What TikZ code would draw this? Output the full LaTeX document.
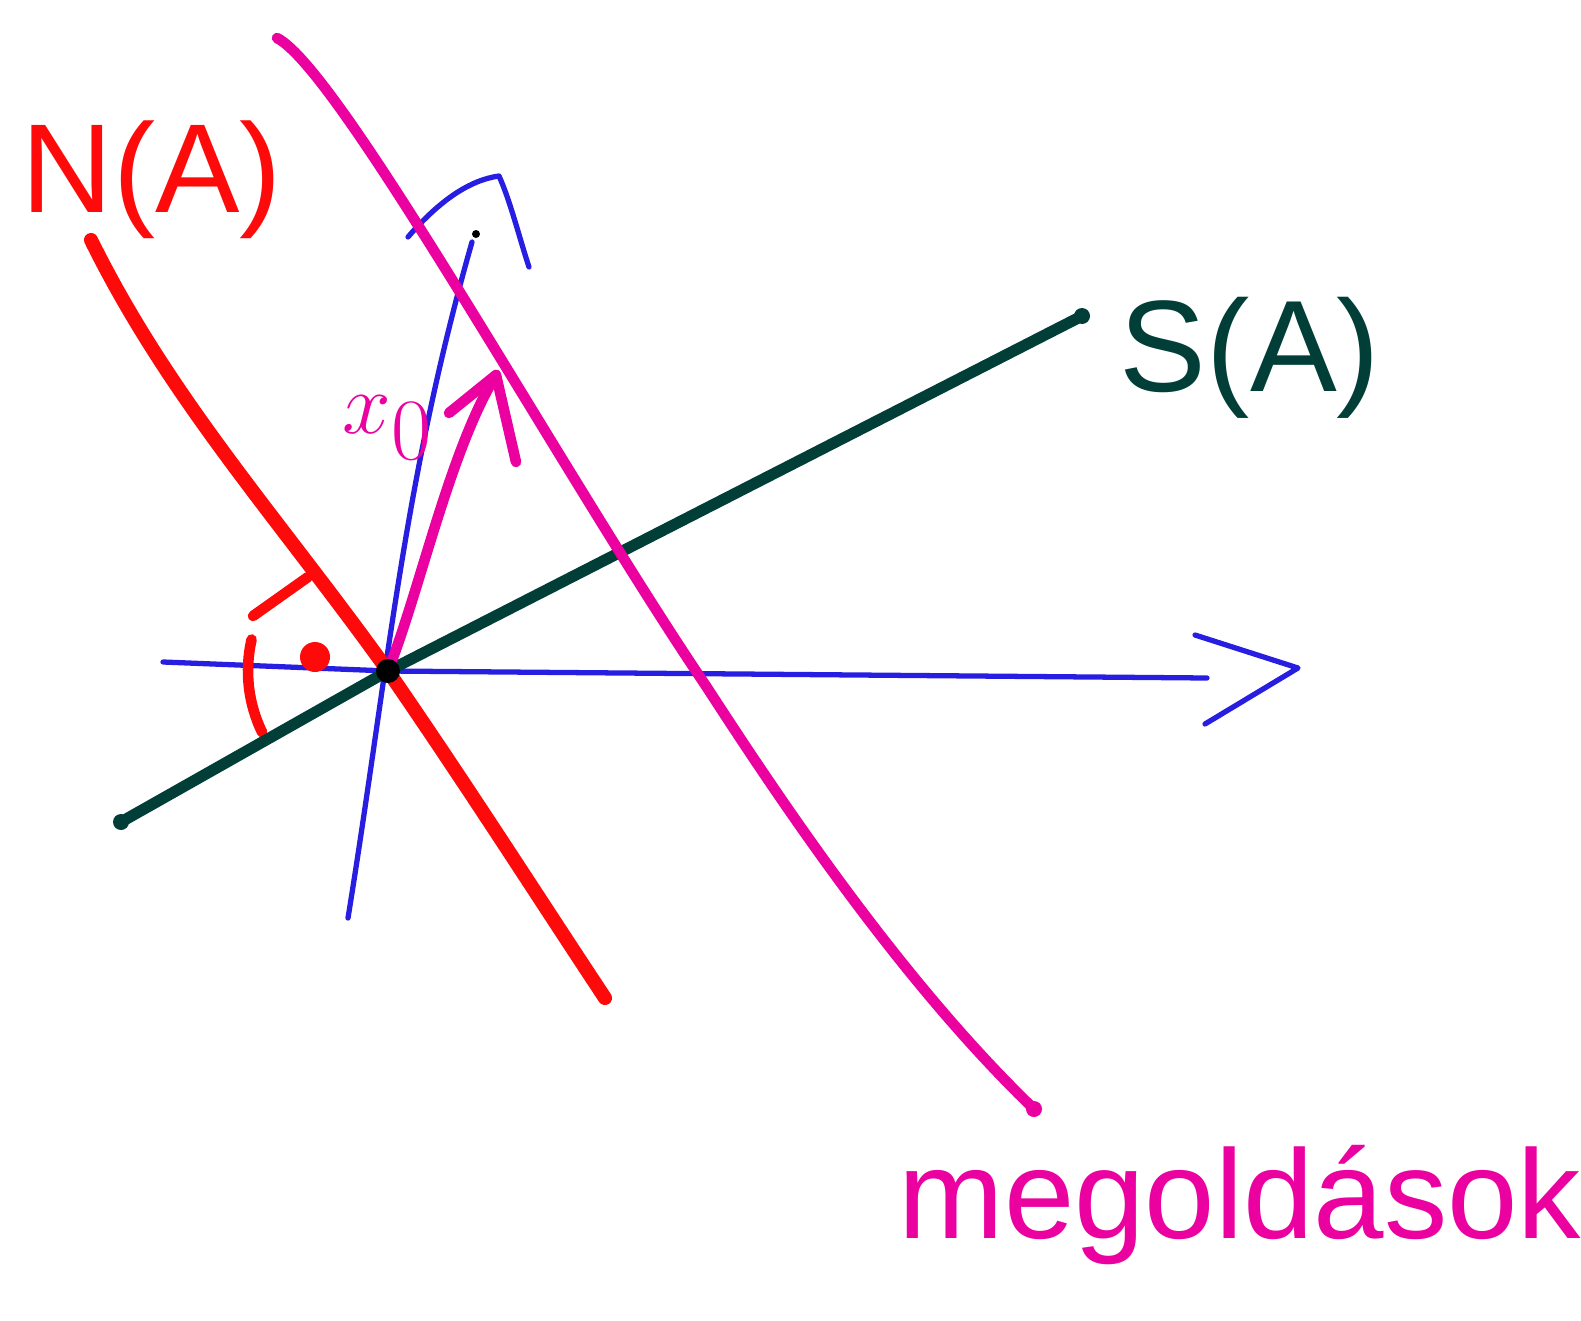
\documentclass[tikz,border=0pt]{standalone}
\usepackage{fontspec}
\setmainfont{Liberation Sans}
\usetikzlibrary{calc}
\definecolor{pen red}{RGB}{255,10,10}
\definecolor{pen pink}{RGB}{235,0,160}
\definecolor{pen teal}{RGB}{0,62,55}
\definecolor{pen blue}{RGB}{40,30,225}
\tikzset{
  sketch/.style={line cap=round,line join=round},
  axis/.style={sketch,pen blue,line width=1.5pt},
  lbl/.style={inner sep=0pt},
}
\begin{document}
\begin{tikzpicture}[x=0.01cm,y=-0.01cm]
\useasboundingbox (0,0) rectangle (1581,1321);
\coordinate (O) at (388,671);
% axes
\draw[axis] (163,662) -- (O) -- (1207,678);
\draw[axis] (1195,635) -- (1298,668) -- (1205,724);
\draw[axis] (348,918) .. controls (O) and (403,484) .. (472,242);
\draw[axis] (408,237) .. controls (440,200) and (470,180) .. (499,176) .. controls (510,200) and (520,240) .. (529,267);
\fill (476,234) circle (4);
% kernel
\draw[sketch,pen red,line width=4pt] (91,240) .. controls (170,400) and (280,520) .. (O) .. controls (470,790) and (540,900) .. (605,998);
\draw[sketch,pen red,line width=3pt] (253,616) -- (308,577);
\draw[sketch,pen red,line width=3pt] ($(O)+(-167:140)$) arc[start angle=-167,end angle=-206,radius=140];
\fill[pen red] (315,657) circle (15);
% range
\draw[sketch,pen teal,line width=3.2pt] (121,822) -- (O) -- (1082,316);
\fill[pen teal] (1082,316) circle (8);
\fill[pen teal] (121,822) circle (8);
% solution set
\draw[sketch,pen pink,line width=3pt] (277,38) .. controls (340,70) and (560,470) .. (706,686) .. controls (780,800) and (900,980) .. (1034,1109);
\fill[pen pink] (1034,1109) circle (8);
% x0
\draw[sketch,pen pink,line width=3pt] (O) .. controls (420,590) and (450,450) .. (496,375);
\draw[sketch,pen pink,line width=3pt] (449,413) -- (496,375) -- (516,462);
\fill (O) circle (12);
% labels
\node[lbl,pen red,font=\fontsize{36}{40}\selectfont] (kernel) at (152,180) {N(A)};
\node[lbl,pen teal,font=\fontsize{37}{40}\selectfont] (range) at (1250,358) {S(A)};
\node[lbl,pen pink,font=\fontsize{34}{38}\selectfont] (x0) at (388,428) {$x_0$};
\node[lbl,pen pink,font=\fontsize{36}{40}\selectfont] (sol) at (1240,1205) {megoldások};
\end{tikzpicture}
\end{document}
